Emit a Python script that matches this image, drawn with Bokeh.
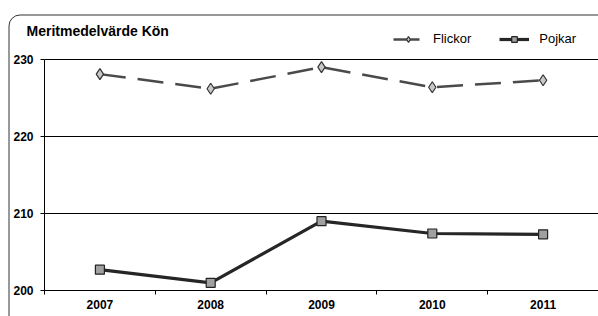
import math
from bokeh.plotting import figure
from bokeh.models import FixedTicker, Legend, LegendItem, Label, Range1d
from bokeh.embed import file_html
from bokeh.resources import INLINE

years = ["2007", "2008", "2009", "2010", "2011"]
flickor = [228.1, 226.2, 229.0, 226.4, 227.3]
pojkar = [202.7, 201.0, 209.0, 207.4, 207.3]
y_ticks = [200, 210, 220, 230]
title_text = "Meritmedelvärde Kön"
series_names = ["Flickor", "Pojkar"]

n = len(years)
xs = [i + 0.5 for i in range(n)]
FONT = "Liberation Sans"

# pixel geometry (canvas 598x316 at page origin)
W, H = 598, 316
px_per_x = 554 / n
px_per_y = 231 / (y_ticks[-1] - y_ticks[0])
axis_left_px = 44
axis_bottom_px = 290
x0 = -axis_left_px / px_per_x
x1 = x0 + W / px_per_x
y0 = y_ticks[0] - (H - axis_bottom_px) / px_per_y
y1 = y_ticks[0] + axis_bottom_px / px_per_y

def dx(px):
    return x0 + px / px_per_x

def dy(py):
    return y1 - py / px_per_y

p = figure(width=W, height=H, output_backend="svg", toolbar_location=None,
           x_range=Range1d(x0, x1), y_range=Range1d(y0, y1), min_border=0)
p.outline_line_color = None
p.background_fill_color = "white"
p.border_fill_color = "white"
p.xgrid.grid_line_color = None
p.ygrid.grid_line_color = None

# chart border: top and left edges with rounded top-left corner
BL, BT, R = 8.5, 14.5, 11
border_col = "#333333"
p.line([dx(BL + R), dx(W + 20)], [dy(BT), dy(BT)], line_color=border_col, line_width=1)
p.line([dx(BL), dx(BL)], [dy(BT + R), dy(H + 20)], line_color=border_col, line_width=1)
p.arc(x=[dx(BL + R)], y=[dy(BT + R)], radius=R, radius_units="screen",
      start_angle=math.pi / 2, end_angle=math.pi, line_color=border_col, line_width=1)

# gridlines between the axis bounds
p.segment(x0=[0] * (len(y_ticks) - 1), x1=[n] * (len(y_ticks) - 1),
          y0=y_ticks[1:], y1=y_ticks[1:], line_color="black", line_width=1)

# x axis
xa = p.xaxis[0]
xa.fixed_location = y_ticks[0]
xa.bounds = (0, n)
xa.ticker = FixedTicker(ticks=xs, minor_ticks=list(range(n + 1)))
xa.major_label_overrides = {x: y for x, y in zip(xs, years)}
xa.major_tick_out = 0
xa.major_tick_in = 0
xa.minor_tick_out = 4
xa.minor_tick_in = 0
xa.minor_tick_line_color = "black"
xa.axis_line_color = "black"
xa.major_label_text_font = FONT
xa.major_label_text_font_style = "bold"
xa.major_label_text_font_size = "12px"
xa.major_label_text_color = "black"
xa.major_label_standoff = 5

# y axis
ya = p.yaxis[0]
ya.fixed_location = 0
ya.bounds = (y_ticks[0], y_ticks[-1])
ya.ticker = FixedTicker(ticks=y_ticks, minor_ticks=[])
ya.major_tick_out = 4
ya.major_tick_in = 0
ya.major_tick_line_color = "black"
ya.axis_line_color = "black"
ya.major_label_text_font = FONT
ya.major_label_text_font_style = "bold"
ya.major_label_text_font_size = "12px"
ya.major_label_text_color = "black"
ya.major_label_standoff = 7

# series
fl = p.line(xs, flickor, line_color="#4a4a4a", line_width=2.5, line_dash="26 12")
fm = p.scatter(xs, flickor, marker="diamond", size=11, fill_color="#c8c8c8",
               line_color="#333333", line_width=1.2)
pl = p.line(xs, pojkar, line_color="#262626", line_width=3.2)
pm = p.scatter(xs, pojkar, marker="square", size=9, fill_color="#a0a0a0",
               line_color="#222222", line_width=1.2)

legend = Legend(items=[LegendItem(label=series_names[0], renderers=[fl, fm]),
                       LegendItem(label=series_names[1], renderers=[pl, pm])],
                orientation="horizontal", location=(393, 270),
                glyph_width=30, glyph_height=14, label_height=14,
                label_standoff=10, spacing=28, padding=0, margin=0,
                border_line_color=None, background_fill_alpha=0,
                label_text_font=FONT, label_text_font_size="13px",
                label_text_color="black")
p.add_layout(legend, "center")

p.add_layout(Label(x=dx(26), y=dy(30), text=title_text, text_font=FONT,
                   text_font_size="14px", text_font_style="bold",
                   text_baseline="middle", text_color="black"))

open("out.html", "w").write(file_html(p, INLINE))
